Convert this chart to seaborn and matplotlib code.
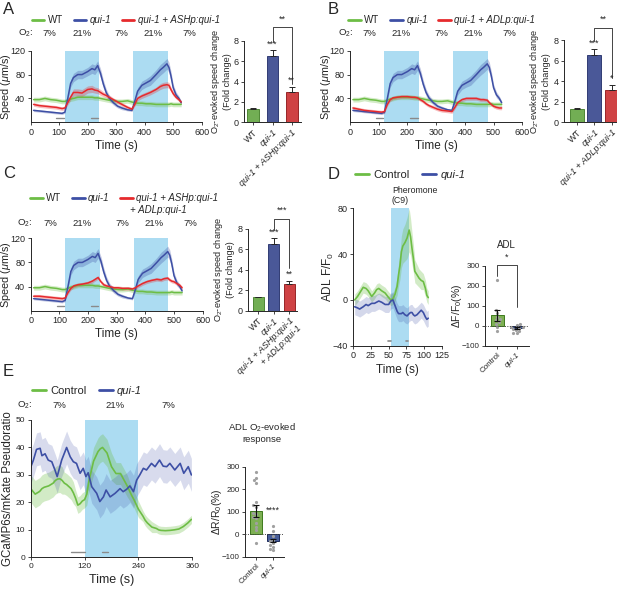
import matplotlib
matplotlib.use("Agg")
import matplotlib.pyplot as plt
import seaborn as sns
import numpy as np

# colours
GREEN = "#6dbd45"
BLUE = "#3d4fa5"
RED = "#e62a2d"
SHADE = "#acdcf2"
GREY = "#8a8a8a"
INK = "#262626"

# ---- A-C: crawling speed (um/s), O2 switched 7% -> 21% -> 7% -> 21% -> 7% ----
SPEED_T = [10, 30, 50, 70, 90, 110, 120, 130, 140, 150, 165, 180, 200, 215, 225,
           235, 245, 255, 265, 275, 290, 305, 320, 340, 355, 365, 375, 390, 405,
           420, 440, 455, 465, 478, 485, 492, 500, 510, 520, 528]
WT_SPEED = [38, 38, 40, 38, 37, 35, 35, 37, 39, 40, 42, 42, 42, 42, 41,
            41, 40, 39, 38, 37, 36, 35, 35, 36, 34, 33, 32, 32, 31,
            31, 30, 30, 30, 30, 30, 31, 30, 30, 30, 30]
WT_SEM = 4
QUI1_SPEED = [20, 19, 18, 17, 16, 15, 17, 40, 65, 75, 80, 80, 85, 90, 88,
              95, 82, 64, 50, 41, 33, 27, 24, 21, 20, 35, 52, 62, 66,
              70, 80, 88, 92, 98, 92, 78, 58, 46, 40, 33]
QUI1_SEM = [2, 2, 2, 2, 2, 2, 2, 4, 6, 7, 7, 7, 7, 8, 8,
            8, 8, 7, 6, 5, 4, 3, 3, 2, 2, 4, 6, 7, 7,
            8, 8, 9, 9, 9, 9, 8, 6, 5, 4, 3]
ASH_SPEED = [30, 28, 27, 26, 25, 23, 24, 33, 42, 50, 50, 49, 55, 56, 54,
             53, 50, 47, 45, 42, 38, 34, 30, 25, 22, 30, 40, 44, 47,
             50, 55, 60, 62, 63, 62, 55, 48, 42, 38, 34]
ASH_SEM = [3, 3, 3, 3, 3, 3, 3, 4, 5, 6, 6, 6, 6, 6, 5,
           5, 5, 4, 4, 4, 3, 3, 3, 3, 3, 3, 4, 4, 4,
           4, 4, 5, 5, 5, 5, 4, 4, 3, 3, 3]
ADL_SPEED = [24, 22, 20, 19, 18, 17, 18, 30, 38, 41, 42, 43, 43, 42, 42,
             41, 38, 35, 31, 28, 25, 22, 20, 19, 18, 25, 33, 38, 40,
             40, 40, 38, 38, 37, 33, 30, 27, 25, 24, 24]
ADL_SEM = 3
BOTH_SPEED = [24, 24, 23, 22, 21, 20, 21, 30, 37, 41, 43, 44, 46, 49, 52,
              55, 48, 43, 41, 40, 38, 38, 37, 37, 36, 38, 41, 45, 48,
              50, 52, 51, 53, 54, 51, 49, 48, 45, 42, 38]
BOTH_SEM = 3

O2_T = [67, 179, 319, 430, 556]
O2_LABELS = ["7%", "21%", "7%", "21%", "7%"]

# O2-evoked speed change (fold change), mean and SEM
FOLD_A_LABELS = ["WT", "qui-1", "qui-1 + ASHp:qui-1"]
FOLD_A = [1.3, 6.5, 2.95]
FOLD_A_ERR = [0.08, 0.6, 0.55]
FOLD_B_LABELS = ["WT", "qui-1", "qui-1 + ADLp:qui-1"]
FOLD_B = [1.3, 6.5, 3.1]
FOLD_B_ERR = [0.08, 0.6, 0.55]
FOLD_C_LABELS = ["WT", "qui-1", "qui-1 + ASHp:qui-1\n+ ADLp:qui-1"]
FOLD_C = [1.3, 6.5, 2.65]
FOLD_C_ERR = [0.08, 0.6, 0.3]

# ---- D: ADL response to pheromone (C9) ----
D_T = [2, 6, 9, 14, 18, 21, 26, 30, 33, 36, 40, 45, 50, 53, 56, 59, 62, 64, 66, 68,
       70, 73, 76, 79, 81, 83, 85, 87, 90, 93, 96, 99, 102, 104, 106]
D_CTRL = [0, 3, 6, 11, 10, 8, 3, 6, 9, 10, 8, 6, 2, 0, 1, 5, 12, 22, 30, 42,
          47, 50, 54, 61, 55, 45, 36, 25, 22, 19, 17, 16, 10, 4, 2]
D_CTRL_SEM = [5, 5, 5, 5, 5, 5, 5, 5, 5, 5, 5, 5, 5, 5, 5, 6, 8, 10, 12, 14,
              15, 16, 18, 19, 16, 14, 12, 10, 9, 8, 8, 7, 7, 6, 6]
D_QUI = [-6, -7, -8, -6, -4, -5, -3, -3, -2, -1, -2, -4, -4, -1, 0, -5, -10, -12, -12, -12,
         -11, -13, -14, -12, -11, -11, -13, -14, -13, -11, -9, -11, -15, -17, -16]
D_QUI_SEM = 7
D_GROUPS = ["Control", "qui-1"]
D_BAR = [52, -12]
D_BAR_SEM = [29, 6]
D_CTRL_PTS = [230, 80, 65, 45, 30, 20, 10, -5, -25, 35]
D_QUI_PTS = [10, 2, -5, -8, -12, -15, -20, -28, -35, -38]

# ---- E: ADL GCaMP6s/mKate ratio, O2 7% -> 21% -> 7% ----
E_CTRL_T = [0, 5, 10, 15, 20, 25, 30, 40, 45, 50, 55, 60, 65, 70, 75, 80, 90, 95, 100, 105,
            110, 115, 120, 125, 130, 140, 150, 155, 160, 170, 180, 190, 200, 210, 215, 225,
            230, 240, 250, 255, 260, 270, 280, 285, 290, 300, 310, 320, 330, 340, 350, 358]
E_CTRL = [25, 24, 23, 23.5, 24, 25, 25.5, 26, 26.5, 27, 28, 28.5, 28.6, 28, 27, 26.5, 25, 23.5, 21.5, 19,
          19.5, 20.5, 21, 23, 28, 35, 38.5, 39.5, 40, 38, 33, 30.5, 30.5, 27.5, 26, 22.5,
          21, 17.5, 15, 13.5, 12.5, 11, 10.5, 10, 9.8, 9.7, 9.8, 10, 10.3, 11.2, 12.5, 13.8]
E_CTRL_SEM = [5, 5, 5, 5, 5, 5, 5, 5, 5, 5, 5, 5, 5, 5, 4, 4, 4, 4, 3, 3,
              3, 3, 3, 4, 4, 5, 5, 5, 5, 5, 5, 4, 4, 4, 4, 3,
              3, 3, 2, 2, 2, 2, 1.5, 1.5, 1.5, 1.5, 1.5, 1.5, 1.5, 1.5, 1.5, 1.5]
E_QUI_T = [0, 6, 13, 21, 25, 32, 39, 47, 54, 59, 69, 80, 88, 95, 102, 110, 117, 123, 128, 136,
           147, 154, 162, 168, 177, 188, 199, 206, 214, 221, 229, 236, 243, 251, 258, 269,
           277, 287, 295, 303, 310, 321, 333, 341, 351, 358]
E_QUI = [32.8, 35.4, 39.3, 39.7, 37, 37.7, 35.4, 34.8, 31.8, 29.4, 35.4, 40, 36.6, 34.8, 34.2,
         30.6, 32.4, 29.4, 30.8, 25.7, 23.3, 20.3, 22, 24.5, 22, 23.3, 25, 23.9, 24.8, 26,
         23.9, 28.1, 30, 32.4, 31.8, 34.2, 33, 35.4, 33.2, 33, 34.2, 31.8, 34.2, 30.6, 33, 30]
E_QUI_SEM = 6
E_BAR = [103, -28]
E_BAR_SEM = [25, 8]
E_CTRL_PTS = [278, 252, 240, 229, 145, 130, 122, 93, 89, 78, 71, 49, 34, 19, -37]
E_QUI_PTS = [37, 16, -10, -25, -32, -40, -47, -55, -66, -72]

sns.set_style("ticks")
plt.rcParams["font.family"] = ["Liberation Sans", "DejaVu Sans"]
plt.rcParams["mathtext.fontset"] = "custom"
plt.rcParams["mathtext.rm"] = "Liberation Sans"
plt.rcParams["mathtext.it"] = "Liberation Sans:italic"
plt.rcParams["mathtext.bf"] = "Liberation Sans:bold"
plt.rcParams["axes.linewidth"] = 0.7
plt.rcParams["axes.edgecolor"] = INK
plt.rcParams["axes.labelcolor"] = INK
plt.rcParams["xtick.color"] = INK
plt.rcParams["ytick.color"] = INK
plt.rcParams["text.color"] = INK

W, H = 617, 594
fig = plt.figure(figsize=(W / 100, H / 100), dpi=100)


def box(left, top, right, bottom):
    return fig.add_axes([left / W, 1 - bottom / H, (right - left) / W, (bottom - top) / H])


def ftext(x, y, s, **kw):
    fig.text(x / W, 1 - y / H, s, **kw)


def ylabel_at(ax, x_px):
    # x_px: right edge of the rotated y label, in figure pixels
    pos = ax.get_position()
    ax.yaxis.set_label_coords((x_px / W - pos.x0) / pos.width, 0.5)


def style(ax, fs=6.5):
    sns.despine(ax=ax)
    ax.tick_params(labelsize=fs, length=2.5, width=0.6, pad=1.5)


def band(ax, t, vals, sem, col, alpha=0.3):
    v = np.asarray(vals, float)
    s = np.broadcast_to(np.asarray(sem, float), v.shape)
    ax.fill_between(t, v - s, v + s, color=col, alpha=alpha, lw=0, zorder=1)


def legend_at(ax, x, y, fs, loc="center left", italic=(1, 2)):
    leg = ax.legend(loc=loc, bbox_to_anchor=(x / W, 1 - y / H), bbox_transform=fig.transFigure,
                    ncol=3, frameon=False, fontsize=fs, handlelength=1.3, handletextpad=0.35,
                    columnspacing=1.1, borderpad=0, borderaxespad=0)
    for i, txt in enumerate(leg.get_texts()):
        if i in italic:
            txt.set_style("italic")
    for ln in leg.get_lines():
        ln.set_linewidth(2.0)


def o2_row(ax, xs, labels, x_o2, dy_px):
    kw = dict(xycoords=("data", "axes fraction"), textcoords="offset points",
              fontsize=6.8, va="center", annotation_clip=False)
    ax.annotate("O$_2$:", xy=(x_o2, 1), xytext=(0, dy_px * 0.72), ha="left", **kw)
    for x, s in zip(xs, labels):
        ax.annotate(s, xy=(x, 1), xytext=(0, dy_px * 0.72), ha="center", **kw)


def speed_panel(ax, rescue, rescue_sem, rescue_label, ylab_x):
    for lo, hi in ((120, 240), (360, 480)):
        ax.axvspan(lo, hi, color=SHADE, lw=0, zorder=0)
    series = [(WT_SPEED, WT_SEM, GREEN, "WT"), (QUI1_SPEED, QUI1_SEM, BLUE, "qui-1"),
              (rescue, rescue_sem, RED, rescue_label)]
    for vals, sem, col, lab in series:
        band(ax, SPEED_T, vals, sem, col)
        sns.lineplot(x=SPEED_T, y=vals, color=col, lw=1.1, label=lab, ax=ax)
    for a, b in ((90, 116), (210, 236)):
        ax.plot([a, b], [7, 7], color=GREY, lw=1.0)
    ax.set_xlim(0, 600)
    ax.set_ylim(0, 120)
    ax.set_xticks(range(0, 601, 100))
    ax.set_yticks([40, 80, 120])
    ax.set_xlabel("Time (s)", fontsize=8.5, labelpad=2)
    ax.set_ylabel("Speed ($\\mu$m/s)", fontsize=7.8)
    ylabel_at(ax, ylab_x)
    style(ax)


def fold_panel(ax, labels, vals, errs, xlim, width, stars, bracket, ylab_x):
    sns.barplot(x=labels, y=vals, hue=labels, palette=[GREEN, BLUE, RED], width=width,
                legend=False, ax=ax, linewidth=0.6)
    for p, ec in zip(ax.patches, ["#3d7a22", "#1f2b66", "#8a1215"]):
        p.set_edgecolor(ec)
    ax.errorbar(range(3), vals, yerr=[[0, 0, 0], errs], fmt="none", ecolor=INK,
                elinewidth=0.7, capsize=2, capthick=0.7)
    for i, y, s in stars:
        ax.text(i, y, s, ha="center", va="bottom", fontsize=6.5)
    y1, top, y2, lab = bracket
    ax.plot([1, 1, 2, 2], [y1, top, top, y2], color=INK, lw=0.6, clip_on=False)
    ax.text(1.5, top + 0.35, lab, ha="center", va="bottom", fontsize=6.5)
    ax.set_xlim(*xlim)
    ax.set_ylim(0, 8)
    ax.set_yticks([0, 2, 4, 6, 8])
    ax.set_xticks(range(3))
    ax.set_xticklabels(labels, rotation=45, ha="right", rotation_mode="anchor", fontsize=6.8)
    for i, t in enumerate(ax.get_xticklabels()):
        if i > 0:
            t.set_style("italic")
    ax.set_xlabel("")
    ax.set_ylabel("O$_2$-evoked speed change\n(Fold change)", fontsize=6.6)
    ylabel_at(ax, ylab_x)
    style(ax)


def dot_bar(ax, means, sems, ctrl_pts, qui_pts, ylab, ylab_x):
    sns.barplot(x=D_GROUPS, y=means, hue=D_GROUPS, palette=["#7cc043", "#3a58a8"], width=0.7,
                legend=False, ax=ax, linewidth=0.7)
    for p, ec in zip(ax.patches, ["#3f7a1d", "#1c2a5a"]):
        p.set_edgecolor(ec)
    cats = ["Control"] * len(ctrl_pts) + ["qui-1"] * len(qui_pts)
    sns.swarmplot(x=cats, y=list(ctrl_pts) + list(qui_pts), order=D_GROUPS, color="#a0a0a0",
                  size=2.3, ax=ax)
    ax.errorbar([0, 1], means, yerr=sems, fmt="none", ecolor="#111111", elinewidth=0.8,
                capsize=2.5, capthick=0.8, zorder=5)
    ax.axhline(0, color="#444444", lw=0.7, ls=(0, (1, 1.5)), zorder=4)
    ax.set_ylim(-100, 300)
    ax.set_yticks([-100, 0, 100, 200, 300])
    ax.set_xlim(-0.64, 1.64)
    ax.set_xticks([0, 1])
    ax.set_xticklabels(D_GROUPS, rotation=45, ha="right", rotation_mode="anchor", fontsize=8)
    ax.get_xticklabels()[1].set_style("italic")
    ax.set_xlabel("")
    ax.set_ylabel(ylab, fontsize=7.5)
    ylabel_at(ax, ylab_x)
    style(ax, 5.8)


# ---------------- A ----------------
axA = box(30.7, 50.7, 201.7, 122.3)
speed_panel(axA, ASH_SPEED, ASH_SEM, "qui-1 + ASHp:qui-1", 13.5)
legend_at(axA, 31.7, 20, 7)
o2_row(axA, O2_T, O2_LABELS, -45, 17.4)
axA2 = box(244.3, 40.7, 301.3, 122.3)
fold_panel(axA2, FOLD_A_LABELS, FOLD_A, FOLD_A_ERR, (-0.47, 2.5), 0.62,
           [(1, 7.25, "***"), (2, 3.65, "**")], (7.9, 9.3, 3.75, "**"), 232)

# ---------------- B ----------------
axB = box(350, 50.7, 522.3, 122.3)
speed_panel(axB, ADL_SPEED, ADL_SEM, "qui-1 + ADLp:qui-1", 333)
legend_at(axB, 348.3, 20, 7)
o2_row(axB, O2_T, O2_LABELS, -42, 17.4)
axB2 = box(564, 40, 617, 122.3)
fold_panel(axB2, FOLD_B_LABELS, FOLD_B, FOLD_B_ERR, (-0.73, 2.3), 0.8,
           [(1, 7.25, "***"), (2, 3.8, "*")], (7.9, 9.2, 4.3, "**"), 551)

# ---------------- C ----------------
axC = box(30.7, 238.3, 202.7, 310.7)
speed_panel(axC, BOTH_SPEED, BOTH_SEM, "qui-1 + ASHp:qui-1", 13.5)
legend_at(axC, 30, 198, 7)
ftext(130.5, 210, "+ ADLp:qui-1", fontsize=7, style="italic", ha="left", va="center")
o2_row(axC, O2_T, O2_LABELS, -48, 15)
axC2 = box(248.3, 229, 297.3, 310.7)
fold_panel(axC2, FOLD_C_LABELS, FOLD_C, FOLD_C_ERR, (-0.64, 2.5), 0.7,
           [(1, 7.25, "***"), (2, 3.1, "**")], (7.9, 9.0, 4.2, "***"), 235)

# ---------------- D ----------------
axD = box(353.3, 208.3, 441.7, 345.7)
axD.axvspan(54, 79, color=SHADE, lw=0, zorder=0)
band(axD, D_T, D_CTRL, D_CTRL_SEM, GREEN)
band(axD, D_T, D_QUI, D_QUI_SEM, BLUE, alpha=0.22)
sns.lineplot(x=D_T, y=D_CTRL, color=GREEN, lw=1.2, label="Control", ax=axD)
sns.lineplot(x=D_T, y=D_QUI, color=BLUE, lw=1.2, label="qui-1", ax=axD)
for a, b in ((49, 53), (74, 78)):
    axD.plot([a, b], [-36, -36], color=GREY, lw=1.2)
axD.set_xlim(0, 125)
axD.set_ylim(-40, 80)
axD.set_xticks(range(0, 126, 25))
axD.set_yticks([-40, 0, 40, 80])
axD.set_xlabel("Time (s)", fontsize=8.5, labelpad=3)
axD.set_ylabel("ADL F/F$_0$", fontsize=8.5)
ylabel_at(axD, 336)
style(axD, 6.5)
legend_at(axD, 355, 175, 8, italic=(1,))
ftext(392, 186, "Pheromone\n(C9)", fontsize=6.3, ha="left", va="top", linespacing=1.1)

axD2 = box(485, 265.7, 529, 345.7)
dot_bar(axD2, D_BAR, D_BAR_SEM, D_CTRL_PTS, D_QUI_PTS, "$\\Delta$F/F$_0$(%)", 464)
axD2.plot([0, 0, 1, 1], [250, 305, 305, 95], color=INK, lw=0.6, clip_on=False)
axD2.text(0.5, 318, "*", ha="center", va="bottom", fontsize=6.5)
ftext(506.7, 245, "ADL", fontsize=7, ha="center", va="center")

# ---------------- E ----------------
axE = box(30.7, 420, 192.3, 557.3)
axE.axvspan(120, 240, color=SHADE, lw=0, zorder=0)
band(axE, E_CTRL_T, E_CTRL, E_CTRL_SEM, GREEN)
band(axE, E_QUI_T, E_QUI, E_QUI_SEM, BLUE, alpha=0.2)
sns.lineplot(x=E_CTRL_T, y=E_CTRL, color=GREEN, lw=1.2, label="Control", ax=axE)
sns.lineplot(x=E_QUI_T, y=E_QUI, color=BLUE, lw=1.2, label="qui-1", ax=axE)
for a, b in ((90, 120), (158, 172)):
    axE.plot([a, b], [1.8, 1.8], color=GREY, lw=1.0)
axE.set_xlim(0, 360)
axE.set_ylim(0, 50)
axE.set_xticks([0, 120, 240, 360])
axE.set_yticks(range(0, 51, 10))
axE.set_xlabel("Time (s)", fontsize=9, labelpad=3)
axE.set_ylabel("GCaMP6s/mKate Pseudoratio", fontsize=8.3)
ylabel_at(axE, 14.5)
style(axE, 6)
legend_at(axE, 31.7, 390.7, 8, italic=(1,))
o2_row(axE, [64, 188, 306], ["7%", "21%", "7%"], -31, 15)

axE2 = box(245, 466.7, 283.7, 556.7)
dot_bar(axE2, E_BAR, E_BAR_SEM, E_CTRL_PTS, E_QUI_PTS, "$\\Delta$R/R$_0$(%)", 224)
axE2.set_xlim(-0.66, 1.66)
axE2.text(1, 88, "****", ha="center", va="bottom", fontsize=6.5)
ftext(261.7, 432.5, "ADL O$_2$-evoked\nresponse", fontsize=6.8, ha="center", va="center",
      multialignment="center")

# panel letters
for x, y, s in ((3, 10, "A"), (328, 10, "B"), (3, 174, "C"), (328, 175, "D"), (3, 371, "E")):
    ftext(x, y, s, fontsize=12, ha="left", va="center")

fig.savefig("out.png", dpi=100)
